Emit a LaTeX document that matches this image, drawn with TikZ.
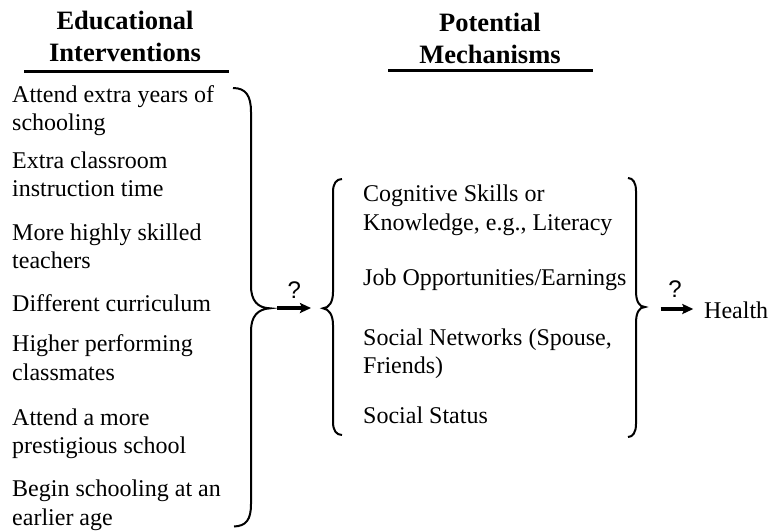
\documentclass[tikz,border=0pt]{standalone}
\usepackage{fontspec}
\setmainfont{Liberation Serif}
\newfontfamily\qfont{Liberation Sans}
\usetikzlibrary{arrows.meta}
\begin{document}
\begin{tikzpicture}[x=1pt,y=-1pt,
  item/.style={anchor=base west,inner sep=0pt,align=left,font={\fontsize{24}{28.3}\selectfont}},
  title/.style={anchor=base,inner sep=0pt,align=center,font={\fontsize{26.5}{31.5}\selectfont\bfseries}},
  rulebar/.style={line width=3pt},
  bracket/.style={line width=2pt},
  link/.style={line width=3.2pt,-{Stealth[length=11pt,width=10pt,inset=2pt]}},
  qmark/.style={anchor=base,inner sep=0pt,font={\fontsize{24}{28}\selectfont\qfont}}
]
\useasboundingbox (0,0) rectangle (771,531);
% titles (anchored at the baseline of their last line)
\node[title] (t1) at (125,61) {Educational\\Interventions};
\node[title] (t2) at (490,63.3) {Potential\\Mechanisms};
\draw[rulebar] (24,71) -- (229,71);
\draw[rulebar] (388,70) -- (593,70);
% interventions
\node[item] (i1) at (12,130.7) {Attend extra years of\\schooling};
\node[item] (i2) at (12,196.7) {Extra classroom\\instruction time};
\node[item] (i3) at (12,268.3) {More highly skilled\\teachers};
\node[item] (i4) at (12,311.9) {Different curriculum};
\node[item] (i5) at (12,380) {Higher performing\\classmates};
\node[item] (i6) at (12,453.3) {Attend a more\\prestigious school};
\node[item] (i7) at (12,525) {Begin schooling at an\\earlier age};
% mechanisms
\node[item] (m1) at (363,230) {Cognitive Skills or\\Knowledge, e.g., Literacy};
\node[item] (m2) at (363,285) {Job Opportunities/Earnings};
\node[item] (m3) at (363,373.3) {Social Networks (Spouse,\\Friends)};
\node[item] (m4) at (363,423.3) {Social Status};
% outcome
\node[item] (h) at (704,318.5) {Health};
% braces
\draw[bracket] (233,88) .. controls (246,88) and (251,96) .. (251,112) -- (251,286)
  .. controls (251,301) and (258,308) .. (270,308.3)
  .. controls (258,309) and (251,316) .. (251,331) -- (251,504)
  .. controls (251,520) and (246,526) .. (234,526.5);
\draw[bracket] (342,179) .. controls (336,179) and (333,184) .. (333,192) -- (333,292)
  .. controls (333,302) and (329,308) .. (323,308.3)
  .. controls (329,309) and (333,315) .. (333,325) -- (333,422)
  .. controls (333,430) and (336,435) .. (342,435);
\draw[bracket] (628,178) .. controls (633,178) and (636,183) .. (636,191) -- (636,291)
  .. controls (636,301) and (639,307) .. (645,307)
  .. controls (639,307) and (636,313) .. (636,323) -- (636,424)
  .. controls (636,432) and (633,437) .. (628,437);
% arrows
\coordinate (a1s) at (277,308);
\coordinate (a1e) at (311,308);
\coordinate (a2s) at (660.7,309);
\coordinate (a2e) at (693.3,309);
\draw[link] (a1s) -- (a1e);
\draw[link] (a2s) -- (a2e);
\node[qmark] (q1) at (294.3,298) {?};
\node[qmark] (q2) at (675,297.3) {?};
\end{tikzpicture}
\end{document}
